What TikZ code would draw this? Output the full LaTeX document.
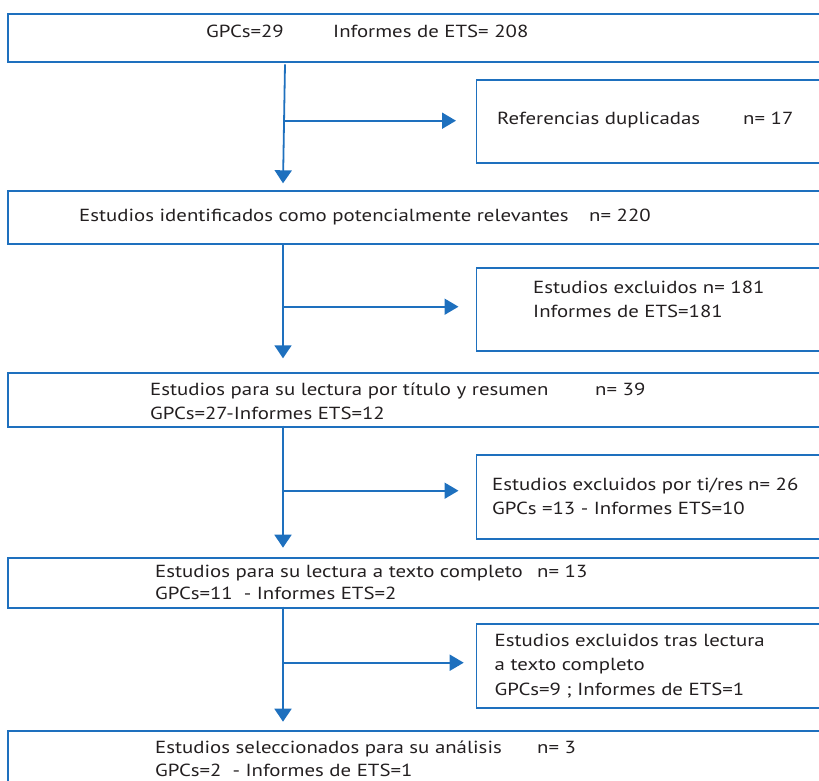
\documentclass[tikz,border=0pt]{standalone}
\usepackage{fontspec}
\setmainfont[FakeStretch=1.19]{PT Sans}
\usetikzlibrary{arrows.meta}
\definecolor{flowblue}{RGB}{30,112,190}
\definecolor{ink}{RGB}{35,31,32}
\tikzset{
  box/.style={draw=flowblue,line width=1.8pt,rectangle,inner sep=0pt,anchor=north west},
  txt/.style={anchor=base west,inner sep=0pt,text=ink,font=\fontsize{17.5}{21}\selectfont},
  down/.style={draw=flowblue,line width=1.8pt,-{Triangle[length=13pt,width=17pt]}},
  side/.style={draw=flowblue,line width=1.8pt,-{Triangle[length=14pt,width=16pt]}}
}
\begin{document}
\begin{tikzpicture}[x=1pt,y=-1pt]
\useasboundingbox (0,0) rectangle (819,780);
\clip (0,0) rectangle (819,780);
% boxes
\node[box,minimum width=830pt,minimum height=48.3pt] (b1) at (7.3,12.7) {};
\node[box,minimum width=360pt,minimum height=83.3pt] (b2) at (475.5,79) {};
\node[box,minimum width=830pt,minimum height=53.3pt] (b3) at (7.3,190) {};
\node[box,minimum width=360pt,minimum height=83.3pt] (b4) at (475.5,266.7) {};
\node[box,minimum width=830pt,minimum height=54pt] (b5) at (7.3,371.7) {};
\node[box,minimum width=360pt,minimum height=83.4pt] (b6) at (475.5,454.3) {};
\node[box,minimum width=830pt,minimum height=49.4pt] (b7) at (7.3,557.3) {};
\node[box,minimum width=360pt,minimum height=84pt] (b8) at (475.5,622.7) {};
\node[box,minimum width=830pt,minimum height=80pt] (b9) at (7.3,730) {};
% texts
\node[txt] (t1a) at (206,37.5) {GPCs=29};
\node[txt] (t1b) at (333,37.5) {Informes de ETS= 208};
\node[txt] (t2a) at (497,124) {Referencias duplicadas};
\node[txt] (t2b) at (743,124) {n= 17};
\node[txt] (t3a) at (79,221.7) {Estudios identificados como potencialmente relevantes};
\node[txt] (t3b) at (589,221.7) {n= 220};
\node[txt] (t4a) at (533,293.3) {Estudios excluidos n= 181};
\node[txt] (t4b) at (533,317.3) {Informes de ETS=181};
\node[txt] (t5a) at (150,395) {Estudios para su lectura por título y resumen};
\node[txt] (t5b) at (595,395) {n= 39};
\node[txt] (t5c) at (150,419.3) {GPCs=27-Informes ETS=12};
\node[txt] (t6a) at (492,490.7) {Estudios excluidos por ti/res};
\node[txt] (t6b) at (748,490.7) {n= 26};
\node[txt] (t6c) at (492,514) {GPCs =13 - Informes ETS=10};
\node[txt] (t7a) at (155,577.3) {Estudios para su lectura a texto completo};
\node[txt] (t7b) at (537,577.3) {n= 13};
\node[txt] (t7c) at (155,599.3) {GPCs=11 \ - Informes ETS=2};
\node[txt] (t8a) at (494.5,646.7) {Estudios excluidos tras lectura};
\node[txt] (t8b) at (494.5,670.7) {a texto completo};
\node[txt] (t8c) at (494.5,695) {GPCs=9 ; Informes de ETS=1};
\node[txt] (t9a) at (155,753.3) {Estudios seleccionados para su análisis};
\node[txt] (t9b) at (537,753.3) {n= 3};
\node[txt] (t9c) at (155,776) {GPCs=2 \ - Informes de ETS=1};
% connector coordinates
\coordinate (s1) at (285,64.3);
\coordinate (e1) at (283,183.3);
\coordinate (k1) at (284,120.7);
\coordinate (h1) at (456,120.7);
\coordinate (s2) at (283,243.3);
\coordinate (e2) at (283,358.3);
\coordinate (k2) at (283,306.7);
\coordinate (h2) at (458.5,306.7);
\coordinate (s3) at (283,425.7);
\coordinate (e3) at (283,547.7);
\coordinate (k3) at (283,490.7);
\coordinate (h3) at (458.5,490.7);
\coordinate (s4) at (283,606.7);
\coordinate (e4) at (283,721.7);
\coordinate (k4) at (283,662.7);
\coordinate (h4) at (463.7,662.7);
% connectors
\draw[down] (s1) -- (e1);
\draw[side] (k1) -- (h1);
\draw[down] (s2) -- (e2);
\draw[side] (k2) -- (h2);
\draw[down] (s3) -- (e3);
\draw[side] (k3) -- (h3);
\draw[down] (s4) -- (e4);
\draw[side] (k4) -- (h4);
\end{tikzpicture}
\end{document}
